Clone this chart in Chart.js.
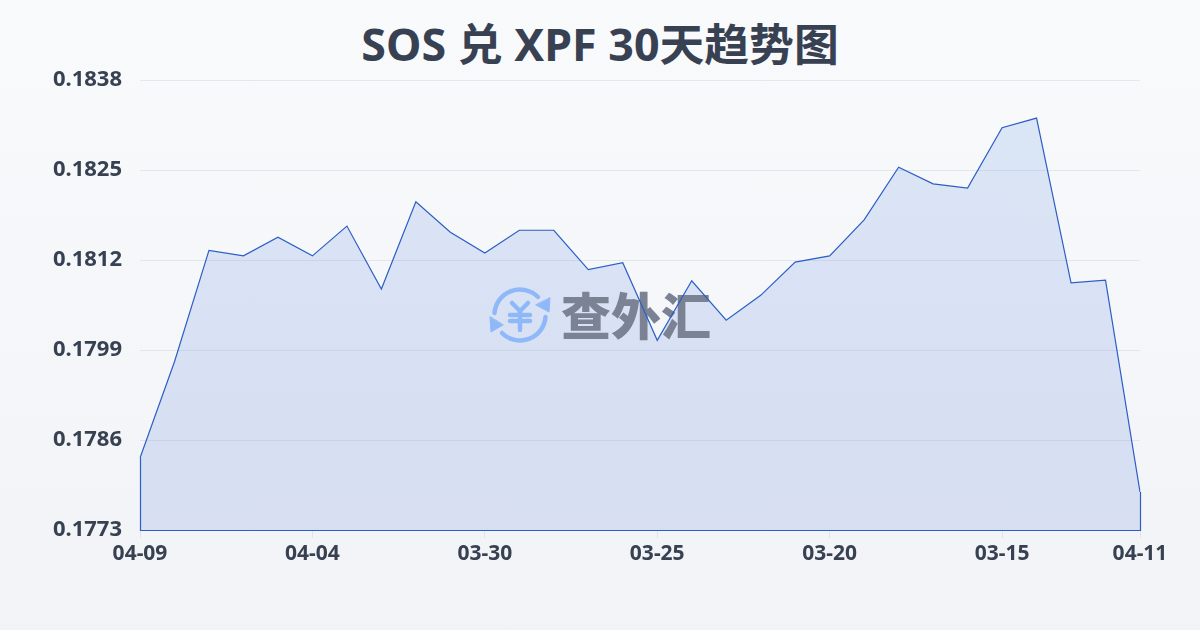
<!DOCTYPE html>
<html lang="zh">
<head>
<meta charset="utf-8">
<title>SOS 兑 XPF 30天趋势图</title>
<script src="https://cdn.jsdelivr.net/npm/chart.js@4"></script>
<style>
  html, body { margin: 0; padding: 0; }
  body {
    width: 1200px; height: 630px; position: relative; overflow: hidden;
    background: linear-gradient(180deg, #f8fafc 0%, #f1f3f6 100%);
    font-family: "Noto Sans", "Noto Sans CJK SC", sans-serif;
  }
  #title {
    position: absolute; left: 0; top: 14px; width: 1200px; text-align: center;
    font-size: 44.8px; line-height: 60px; font-weight: 700; color: #374151;
  }
  #chart { position: absolute; left: 0; top: 0; }
</style>
</head>
<body>
<div id="title">SOS 兑 XPF 30天趋势图</div>
<canvas id="chart" width="1200" height="630"></canvas>
<script>
const dates = ['04-09','04-08','04-07','04-06','04-05','04-04','04-03','04-02','04-01','03-31',
               '03-30','03-29','03-28','03-27','03-26','03-25','03-24','03-23','03-22','03-21',
               '03-20','03-19','03-18','03-17','03-16','03-15','03-14','03-13','03-12','04-11'];
const rates = [0.17834,0.17973,0.18134,0.18126,0.18153,0.18126,0.18169,0.18078,0.18204,0.18160,
               0.18130,0.18163,0.18163,0.18106,0.18116,0.18004,0.18090,0.18033,0.18069,0.18117,
               0.18126,0.18178,0.18254,0.18230,0.18224,0.18311,0.18325,0.18087,0.18091,0.17785];
const yTicks = [0.1773,0.1786,0.1799,0.1812,0.1825,0.1838];
const xTickIndexes = [0,5,10,15,20,25,29];

const lineColor = '#2c5ec4';
const textColor = '#374151';
const gridColor = 'rgba(148,163,184,0.2)';
const markColor = '#8fb8f8';

const ctx = document.getElementById('chart').getContext('2d');

// closes the outline on the left, right and bottom of the area
const areaOutline = {
    id: 'areaOutline',
    afterDatasetsDraw(chart) {
        const area = chart.chartArea;
        const meta = chart.getDatasetMeta(0).data;
        const c = chart.ctx;
        c.save();
        c.strokeStyle = lineColor;
        c.lineWidth = 1.2;
        c.beginPath();
        c.moveTo(area.left + 0.5, meta[0].y);
        c.lineTo(area.left + 0.5, area.bottom + 0.5);
        c.lineTo(area.right + 0.5, area.bottom + 0.5);
        c.lineTo(area.right + 0.5, meta[meta.length - 1].y);
        c.stroke();
        c.restore();
    }
};

// logo and name sit between the area fill and the line
const watermark = {
    id: 'watermark',
    beforeDatasetDraw(chart) {
        const c = chart.ctx;
        c.save();
        c.translate(485, 280);
        c.strokeStyle = markColor;
        c.fillStyle = markColor;
        c.lineWidth = 4.5;
        c.lineCap = 'round';
        c.lineJoin = 'round';
        c.stroke(new Path2D('M9.5 33 A25.5 25.5 0 0 1 53 17'));
        c.stroke(new Path2D('M60.5 37 A25.5 25.5 0 0 1 17 53'));
        c.stroke(new Path2D('M27 23 L35 31 L43 23 M25 35 L45 35 M25 41 L45 41 M35 31 L35 50'));
        c.lineWidth = 1;
        const arrows = new Path2D('M65 18 L64 32 L51 25 Z M5 37 L6 52 L18 45 Z');
        c.fill(arrows);
        c.stroke(arrows);
        c.restore();

        c.save();
        c.fillStyle = '#7a8294';
        c.font = '900 50px "Noto Sans CJK SC"';
        c.textBaseline = 'alphabetic';
        c.fillText('查外汇', 561, 335);
        c.restore();
    }
};

const gradient = ctx.createLinearGradient(0, 80, 0, 530);
gradient.addColorStop(0, 'rgba(59,120,225,0.15)');
gradient.addColorStop(1, 'rgba(59,100,210,0.15)');

new Chart(ctx, {
    type: 'line',
    data: {
        labels: dates,
        datasets: [{
            data: rates,
            borderColor: lineColor,
            borderWidth: 1.2,
            backgroundColor: gradient,
            fill: 'start',
            tension: 0,
            pointRadius: 0
        }]
    },
    options: {
        responsive: false,
        animation: false,
        layout: { padding: { left: 0, right: 60, top: 80, bottom: 0 } },
        plugins: { legend: { display: false }, tooltip: { enabled: false } },
        scales: {
            x: {
                afterBuildTicks(axis) {
                    axis.ticks = xTickIndexes.map(i => ({ value: i }));
                },
                afterFit(axis) { axis.height = 100; },
                offset: false,
                grid: { display: true, drawOnChartArea: false, drawTicks: true, tickLength: 8, color: gridColor },
                border: { display: false },
                ticks: {
                    autoSkip: false, maxRotation: 0, padding: 3,
                    color: textColor,
                    font: { family: '"Noto Sans", sans-serif', size: 21, weight: '700' }
                }
            },
            y: {
                min: 0.1773,
                max: 0.1838,
                afterBuildTicks(axis) {
                    axis.ticks = yTicks.map(v => ({ value: v }));
                },
                afterFit(axis) { axis.width = 140; },
                grid: { color: gridColor, drawTicks: false },
                border: { display: false },
                ticks: {
                    padding: 18,
                    color: textColor,
                    font: { family: '"Noto Sans", sans-serif', size: 22, weight: '700' },
                    callback: v => v.toFixed(4)
                }
            }
        }
    },
    plugins: [areaOutline, watermark]
});
</script>
</body>
</html>
